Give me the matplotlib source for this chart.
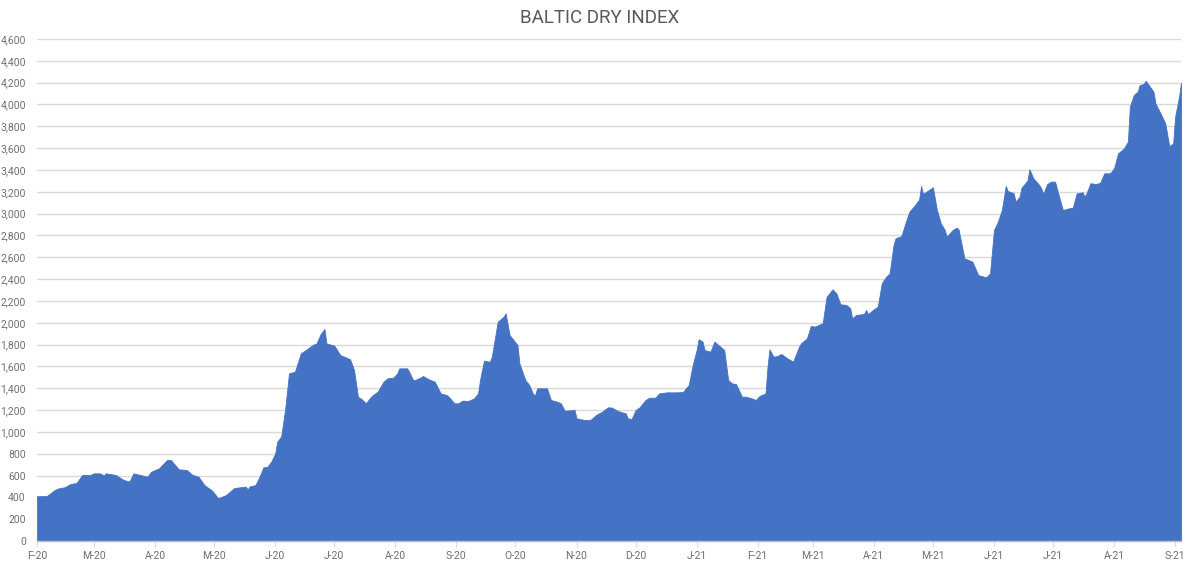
import matplotlib
matplotlib.use("Agg")
import matplotlib.pyplot as plt
import matplotlib.dates as mdates
import pandas as pd

title = "BALTIC DRY INDEX"

dates = [
    "2020-02-01", "2020-02-06", "2020-02-10", "2020-02-12", "2020-02-15", "2020-02-18",
    "2020-02-21", "2020-02-24", "2020-02-28", "2020-03-01", "2020-03-04", "2020-03-06",
    "2020-03-07", "2020-03-12", "2020-03-16", "2020-03-19", "2020-03-21", "2020-03-28",
    "2020-03-30", "2020-04-03", "2020-04-07", "2020-04-09", "2020-04-13", "2020-04-17",
    "2020-04-20", "2020-04-23", "2020-04-26", "2020-04-30", "2020-05-03", "2020-05-07",
    "2020-05-11", "2020-05-14", "2020-05-17", "2020-05-18", "2020-05-19", "2020-05-22",
    "2020-05-24", "2020-05-26", "2020-05-28", "2020-05-30",
    "2020-06-01", "2020-06-02", "2020-06-04", "2020-06-06", "2020-06-08", "2020-06-11",
    "2020-06-14", "2020-06-17", "2020-06-20", "2020-06-22", "2020-06-24", "2020-06-26",
    "2020-06-27", "2020-07-01", "2020-07-04", "2020-07-06", "2020-07-09", "2020-07-11",
    "2020-07-13", "2020-07-15", "2020-07-17", "2020-07-20", "2020-07-23", "2020-07-26",
    "2020-07-28", "2020-07-31", "2020-08-02", "2020-08-03", "2020-08-07", "2020-08-08",
    "2020-08-10", "2020-08-11", "2020-08-14", "2020-08-15", "2020-08-18", "2020-08-21",
    "2020-08-24", "2020-08-27", "2020-08-28", "2020-08-31", "2020-09-02", "2020-09-04",
    "2020-09-07", "2020-09-10", "2020-09-12", "2020-09-13", "2020-09-15", "2020-09-18",
    "2020-09-19", "2020-09-22", "2020-09-25", "2020-09-26", "2020-09-28", "2020-09-30",
    "2020-10-02", "2020-10-03", "2020-10-06", "2020-10-08", "2020-10-10", "2020-10-11",
    "2020-10-12", "2020-10-14", "2020-10-17", "2020-10-19", "2020-10-22", "2020-10-24",
    "2020-10-26", "2020-10-31", "2020-11-01", "2020-11-05", "2020-11-08", "2020-11-11",
    "2020-11-14", "2020-11-17", "2020-11-19", "2020-11-21", "2020-11-23", "2020-11-26",
    "2020-11-27", "2020-11-29", "2020-12-01", "2020-12-03", "2020-12-06", "2020-12-08",
    "2020-12-11", "2020-12-13", "2020-12-17", "2020-12-22", "2020-12-25", "2020-12-27",
    "2020-12-28", "2020-12-30", "2021-01-01", "2021-01-02", "2021-01-04", "2021-01-05",
    "2021-01-08", "2021-01-10", "2021-01-13", "2021-01-15", "2021-01-17", "2021-01-19",
    "2021-01-21", "2021-01-24", "2021-01-26", "2021-01-29", "2021-01-31", "2021-02-02",
    "2021-02-05", "2021-02-06", "2021-02-07", "2021-02-09", "2021-02-11", "2021-02-13",
    "2021-02-16", "2021-02-19", "2021-02-22", "2021-02-23", "2021-02-26", "2021-02-28",
    "2021-03-02", "2021-03-06", "2021-03-08", "2021-03-11", "2021-03-13", "2021-03-15",
    "2021-03-18", "2021-03-20", "2021-03-21", "2021-03-23", "2021-03-27", "2021-03-28",
    "2021-03-29", "2021-04-01", "2021-04-03", "2021-04-05", "2021-04-07", "2021-04-09",
    "2021-04-11", "2021-04-12", "2021-04-15", "2021-04-17", "2021-04-19", "2021-04-22",
    "2021-04-24", "2021-04-25", "2021-04-26", "2021-04-29", "2021-05-01", "2021-05-03",
    "2021-05-05", "2021-05-07", "2021-05-08", "2021-05-11", "2021-05-13", "2021-05-14",
    "2021-05-17", "2021-05-21", "2021-05-24", "2021-05-28", "2021-05-30",
    "2021-06-01", "2021-06-03", "2021-06-05", "2021-06-07", "2021-06-08", "2021-06-11",
    "2021-06-12", "2021-06-14", "2021-06-15", "2021-06-18", "2021-06-19", "2021-06-21",
    "2021-06-24", "2021-06-25", "2021-06-26", "2021-06-28", "2021-06-30", "2021-07-02",
    "2021-07-05", "2021-07-06", "2021-07-09", "2021-07-11", "2021-07-13", "2021-07-16",
    "2021-07-17", "2021-07-18", "2021-07-20", "2021-07-23", "2021-07-25", "2021-07-27",
    "2021-07-30", "2021-08-01", "2021-08-03", "2021-08-06", "2021-08-08", "2021-08-09",
    "2021-08-11", "2021-08-13", "2021-08-14", "2021-08-16", "2021-08-17", "2021-08-18",
    "2021-08-21", "2021-08-22", "2021-08-25", "2021-08-27", "2021-08-29", "2021-08-31",
    "2021-09-01", "2021-09-03", "2021-09-04",
]

bdi = [
    410, 412, 467, 483, 492, 522,
    531, 605, 605, 620, 620, 600,
    620, 605, 559, 545, 620, 589,
    635, 666, 742, 742, 657, 651,
    605, 590, 513, 461, 391, 421,
    483, 492, 498, 473, 500, 513,
    589, 675, 680, 727,
    803, 910, 956, 1200, 1537, 1551,
    1720, 1756, 1796, 1811, 1894, 1943,
    1811, 1790, 1704, 1689, 1665, 1567,
    1322, 1298, 1262, 1329, 1368, 1460,
    1490, 1497, 1537, 1582, 1582, 1551,
    1475, 1475, 1500, 1512, 1481, 1460,
    1353, 1338, 1323, 1262, 1262, 1286,
    1283, 1307, 1353, 1475, 1652, 1643,
    1689, 2010, 2055, 2086, 1888, 1842,
    1796, 1628, 1475, 1429, 1344, 1338,
    1399, 1399, 1399, 1292, 1277, 1262,
    1194, 1200, 1124, 1109, 1109, 1155,
    1185, 1225, 1222, 1200, 1185, 1170,
    1124, 1118, 1200, 1225, 1292, 1313,
    1313, 1353, 1362, 1362, 1365, 1408,
    1429, 1613, 1750, 1848, 1827, 1750,
    1735, 1827, 1781, 1750, 1475, 1444,
    1438, 1322, 1322, 1307, 1292, 1329,
    1353, 1597, 1756, 1689, 1695, 1714,
    1674, 1643, 1781, 1811, 1857, 1970,
    1964, 1995, 2238, 2306, 2268, 2169,
    2163, 2133, 2040, 2071, 2080, 2117,
    2080, 2123, 2148, 2361, 2416, 2453,
    2712, 2773, 2795, 2911, 3018, 3079,
    3131, 3253, 3180, 3217, 3241, 3033,
    2911, 2850, 2788, 2850, 2871, 2856,
    2590, 2560, 2437, 2416, 2453,
    2850, 2926, 3033, 3253, 3207, 3186,
    3109, 3155, 3238, 3302, 3406, 3323,
    3262, 3232, 3180, 3271, 3293, 3293,
    3094, 3033, 3048, 3054, 3186, 3195,
    3155, 3186, 3278, 3271, 3284, 3369,
    3369, 3415, 3552, 3598, 3659, 3979,
    4087, 4117, 4178, 4187, 4218, 4193,
    4117, 4010, 3903, 3827, 3619, 3644,
    3888, 4071, 4200,
]

tick_dates = [
    "2020-02-01", "2020-03-01", "2020-04-01", "2020-05-01", "2020-06-01", "2020-07-01",
    "2020-08-01", "2020-09-01", "2020-10-01", "2020-11-01", "2020-12-01", "2021-01-01",
    "2021-02-01", "2021-03-01", "2021-04-01", "2021-05-01", "2021-06-01", "2021-07-01",
    "2021-08-01", "2021-09-01",
]
tick_labels = [
    "F-20", "M-20", "A-20", "M-20", "J-20", "J-20", "A-20", "S-20", "O-20", "N-20",
    "D-20", "J-21", "F-21", "M-21", "A-21", "M-21", "J-21", "J-21", "A-21", "S-21",
]
y_ticks = list(range(0, 4601, 200))

x = pd.to_datetime(dates)
xt = pd.to_datetime(tick_dates)

fig = plt.figure(figsize=(12, 5.65), dpi=100)
ax = fig.add_axes([0.0308, 0.0425, 0.9534, 0.8885])

ax.fill_between(x, bdi, 0, color="#4472C4", linewidth=0.6, edgecolor="#4472C4", zorder=3)

ax.set_ylim(0, 4600)
ax.set_xlim(x[0], x[-1])
ax.set_yticks(y_ticks)
ax.set_yticklabels([f"{v:,}" for v in y_ticks])
ax.set_xticks(xt)
ax.set_xticklabels(tick_labels)

ax.grid(axis="y", color="#d9d9d9", linewidth=1.0, zorder=0)
ax.set_axisbelow(True)
for s in ["top", "right", "left"]:
    ax.spines[s].set_visible(False)
ax.spines["bottom"].set_color("#bfbfbf")
ax.spines["bottom"].set_linewidth(1.0)
ax.spines["bottom"].set_zorder(4)

ax.tick_params(axis="y", length=0, pad=8, labelsize=7.5, labelcolor="#6f6f6f")
ax.tick_params(axis="x", length=4, color="#d9d9d9", pad=3, labelsize=7.5, labelcolor="#6f6f6f")
for lab in ax.get_xticklabels() + ax.get_yticklabels():
    lab.set_fontfamily("Roboto")

fig.text(0.5, 0.968, title, ha="center", va="center", fontsize=13.5,
         color="#595959", family="Roboto")

fig.savefig("out.png", dpi=100)
